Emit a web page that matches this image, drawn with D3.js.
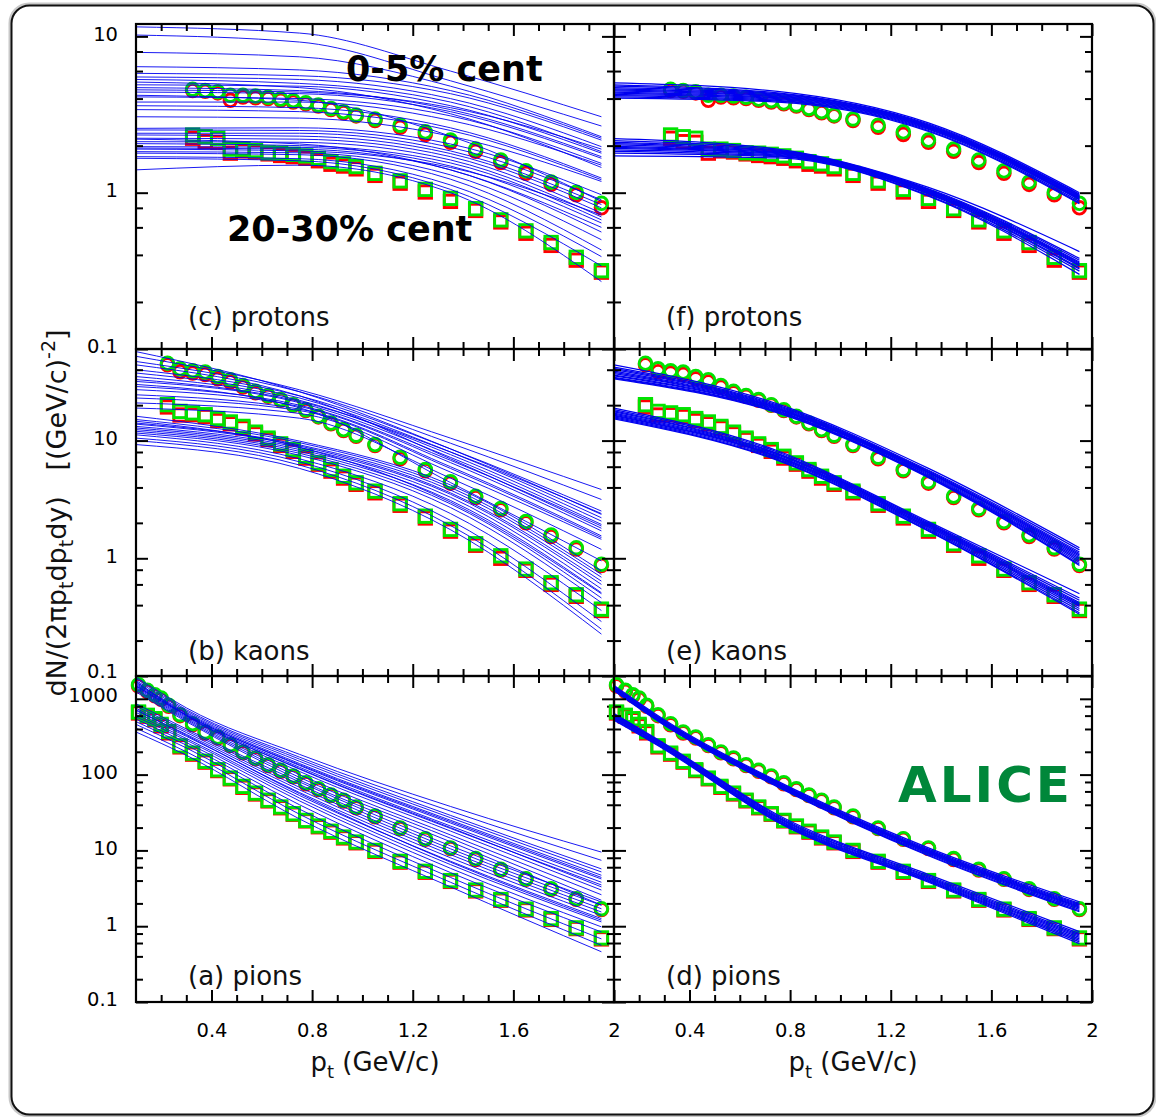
<!DOCTYPE html>
<html>
<head>
<meta charset="utf-8">
<script src="https://cdn.jsdelivr.net/npm/d3@7"></script>
<style>
  body { margin: 0; background: #fff; }
  svg text { font-family: "DejaVu Sans", "Liberation Sans", Arial, sans-serif; }
</style>
</head>
<body>
<svg id="chart" width="1156" height="1117"></svg>
<script>
/************************* Data *********************/
// pt nodes where each model curve was read off the picture
const ptNodes = [0.1, 0.75, 1.35, 1.95];
const pionNodes = [0.1, 0.3, 0.75, 1.35, 1.95];

// measured spectra (red drawn first, green on top)
const protonPt = [0.325, 0.375, 0.425, 0.475, 0.525, 0.575, 0.625, 0.675, 0.725, 0.775, 0.825, 0.875, 0.925, 0.975,
  1.05, 1.15, 1.25, 1.35, 1.45, 1.55, 1.65, 1.75, 1.85, 1.95];
const protonCentralGreen = [4.59, 4.5, 4.43, 4.2, 4.2, 4.15, 4.08, 3.97, 3.88, 3.76, 3.64, 3.46, 3.3, 3.14,
  2.96, 2.7, 2.45, 2.17, 1.9, 1.62, 1.38, 1.17, 1.006, 0.855];
const protonCentralRed = [4.5, 4.45, 4.35, 3.9, 4.1, 4.05, 4.0, 3.9, 3.8, 3.7, 3.58, 3.4, 3.25, 3.1,
  2.9, 2.62, 2.36, 2.1, 1.84, 1.56, 1.33, 1.13, 0.97, 0.8];
const protonPeriphGreen = [2.34, 2.28, 2.23, 1.9, 1.9, 1.86, 1.8, 1.79, 1.76, 1.72, 1.66, 1.58, 1.53, 1.47,
  1.33, 1.19, 1.05, 0.92, 0.79, 0.67, 0.57, 0.48, 0.386, 0.317];
const protonPeriphRed = [2.23, 2.12, 2.1, 1.79, 1.85, 1.82, 1.77, 1.73, 1.7, 1.66, 1.6, 1.52, 1.48, 1.42,
  1.29, 1.15, 1.01, 0.88, 0.77, 0.65, 0.55, 0.46, 0.37, 0.31];

const kaonPt = [0.225, 0.275, 0.325, 0.375, 0.425, 0.475, 0.525, 0.575, 0.625, 0.675, 0.725, 0.775, 0.825, 0.875, 0.925, 0.975,
  1.05, 1.15, 1.25, 1.35, 1.45, 1.55, 1.65, 1.75, 1.85, 1.95];
const kaonCentralGreen = [45.5, 40.7, 39.2, 38.2, 35.1, 32.9, 29.4, 26.2, 24.2, 22.3, 20.2, 18.3, 16.1, 14.1, 12.4, 11.1,
  9.25, 7.22, 5.68, 4.47, 3.37, 2.65, 2.05, 1.58, 1.23, 0.89];
const kaonCentralRed = [44, 38.5, 37.5, 36.5, 33.5, 31.5, 28.5, 25.5, 23.8, 22.0, 20.0, 18.0, 15.9, 13.9, 12.2, 10.9,
  9.1, 7.0, 5.55, 4.35, 3.28, 2.58, 2.0, 1.53, 1.2, 0.87];
const kaonPeriphGreen = [20.2, 17.7, 17.2, 16.6, 15.4, 14.4, 13.2, 11.8, 10.5, 9.38, 8.39, 7.36, 6.47, 5.68, 4.98, 4.38,
  3.72, 2.91, 2.28, 1.76, 1.33, 1.05, 0.81, 0.62, 0.49, 0.37];
const kaonPeriphRed = [19.3, 16.5, 16.6, 16.0, 14.8, 13.9, 12.8, 11.4, 10.2, 9.1, 8.1, 7.1, 6.3, 5.5, 4.8, 4.25,
  3.6, 2.82, 2.2, 1.7, 1.29, 1.0, 0.79, 0.6, 0.475, 0.36];

const pionPt = [0.11, 0.145, 0.175, 0.2, 0.23, 0.275, 0.325, 0.375, 0.425, 0.475, 0.525, 0.575, 0.625, 0.675, 0.725,
  0.775, 0.825, 0.875, 0.925, 0.975, 1.05, 1.15, 1.25, 1.35, 1.45, 1.55, 1.65, 1.75, 1.85, 1.95];
const pionCentralGreen = [1535, 1294, 1132, 1025, 820, 617, 470, 365, 313, 248, 199, 166, 135, 114, 96,
  78, 65, 54, 46, 37.4, 28.5, 19.8, 14.3, 10.8, 7.8, 5.63, 4.24, 3.13, 2.31, 1.7];
const pionCentralRed = [1480, 1250, 1100, 990, 800, 600, 455, 355, 305, 242, 194, 162, 132, 111, 94,
  76, 63.5, 53, 45, 36.5, 27.8, 19.4, 14.0, 10.6, 7.6, 5.5, 4.15, 3.06, 2.26, 1.66];
const pionPeriphGreen = [670, 606, 547, 460, 370, 240, 192, 150, 116, 90, 70, 57, 46, 37.4, 30.5,
  24.9, 21, 17.9, 15.0, 12.9, 10.0, 7.18, 5.3, 4.0, 3.0, 2.25, 1.68, 1.26, 0.95, 0.7];
const pionPeriphRed = [650, 590, 530, 440, 355, 232, 186, 146, 113, 88, 68, 55.5, 45, 36.5, 30,
  24.5, 20.5, 17.4, 14.6, 12.6, 9.7, 7.0, 5.15, 3.9, 2.92, 2.2, 1.64, 1.23, 0.93, 0.68];

// model curves, left column (broad parameter scan), values at ptNodes / pionNodes
const protonCentralScan = [
  [11.5, 10.5, 6.0, 3.06], [10.2, 9.2, 5.2, 2.67], [7.9, 7.4, 4.8, 2.28], [6.4, 6.1, 4.5, 2.23],
  [5.8, 5.6, 4.3, 2.17], [5.5, 5.3, 4.0, 1.97], [5.3, 5.0, 3.8, 1.83], [4.9, 4.8, 3.6, 1.79],
  [4.7, 4.5, 3.4, 1.7], [4.4, 4.3, 3.3, 1.66], [4.1, 4.0, 3.1, 1.54], [3.8, 3.8, 2.9, 1.5],
  [3.6, 3.5, 2.6, 1.24], [3.4, 3.3, 2.5, 1.21], [3.06, 3.0, 2.3, 1.18], [4.2, 3.9, 2.3, 0.88],
  [5.1, 4.7, 3.2, 1.45], [4.55, 4.4, 3.5, 1.9]];
const protonPeriphScan = [
  [2.58, 2.6, 2.05, 0.97], [2.52, 2.5, 1.95, 0.9], [2.4, 2.4, 1.85, 0.84], [2.34, 2.3, 1.78, 0.8],
  [2.23, 2.2, 1.7, 0.74], [2.12, 2.1, 1.62, 0.7], [2.06, 2.0, 1.55, 0.67], [1.97, 1.95, 1.48, 0.64],
  [1.93, 1.9, 1.4, 0.56], [1.83, 1.8, 1.3, 0.5], [1.79, 1.75, 1.22, 0.43], [1.7, 1.65, 1.12, 0.39],
  [1.66, 1.6, 1.05, 0.34], [1.4, 1.5, 1.0, 0.27], [2.2, 2.05, 1.4, 0.6], [1.9, 1.85, 1.45, 0.72]];
const kaonCentralScan = [
  [57, 26, 8.5, 2.36], [52, 27, 10.5, 3.84], [47, 26, 9.5, 3.16], [40, 24, 8.5, 2.52],
  [37.5, 23, 8.0, 2.21], [35, 22, 7.6, 2.07], [31.8, 21, 7.2, 1.94], [28.8, 20, 6.8, 1.88],
  [27.1, 19.5, 6.5, 1.71], [24.5, 18.5, 6.0, 1.55], [23, 18, 5.8, 1.5], [20.9, 17, 5.4, 1.45],
  [18.9, 15.5, 4.8, 1.19], [30, 19, 4.4, 0.95], [44, 24, 7.0, 1.8], [33, 21.5, 8.0, 2.4]];
const kaonPeriphScan = [
  [16.1, 9.9, 4.2, 0.78], [15.1, 9.6, 4.0, 0.73], [14.1, 9.2, 3.8, 0.69], [13.8, 9.0, 3.6, 0.64],
  [13.2, 8.7, 3.5, 0.6], [12.8, 8.4, 3.3, 0.55], [12.4, 8.1, 3.1, 0.51], [12.0, 7.8, 2.9, 0.46],
  [11.6, 7.5, 2.7, 0.42], [11.2, 7.0, 2.4, 0.36], [10.5, 6.6, 2.1, 0.29], [10.0, 6.2, 1.9, 0.25],
  [9.25, 5.8, 1.75, 0.227], [14.6, 8.8, 3.0, 0.5]];
const pionCentralScan = [
  [1940, 760, 185, 38, 9.5], [1850, 720, 170, 33, 7.4], [1750, 690, 160, 29, 5.7], [1650, 660, 150, 27, 5.2],
  [1600, 640, 140, 25, 4.7], [1550, 620, 132, 23, 4.2], [1500, 600, 125, 21, 3.8], [1450, 580, 118, 19.5, 3.5],
  [1400, 560, 110, 18, 3.0], [1350, 540, 100, 16, 2.6], [1290, 520, 92, 14.5, 2.2], [1230, 500, 85, 13, 1.9],
  [1700, 600, 120, 20, 3.3], [1480, 610, 135, 24, 4.4]];
const pionPeriphScan = [
  [860, 400, 80, 11.5, 2.09], [800, 380, 74, 10.5, 1.89], [750, 360, 68, 9.6, 1.7], [700, 340, 63, 8.8, 1.54],
  [660, 320, 58, 8.0, 1.39], [620, 300, 53, 7.2, 1.26], [580, 285, 49, 6.5, 1.14], [540, 265, 45, 5.8, 0.98],
  [500, 245, 40, 5.1, 0.84], [460, 225, 35, 4.4, 0.68], [410, 200, 30, 3.8, 0.56], [365, 180, 26, 3.3, 0.46],
  [720, 330, 56, 7.0, 1.2]];

// model curves, right column (tuned parameter sets)
const protonCentralTuned = [
  [5.05, 4.45, 2.8, 1.0], [4.9, 4.35, 2.75, 0.98], [4.8, 4.3, 2.72, 0.97], [4.7, 4.25, 2.7, 0.96],
  [4.62, 4.2, 2.68, 0.95], [4.55, 4.15, 2.66, 0.94], [4.48, 4.1, 2.64, 0.93], [4.4, 4.05, 2.62, 0.92],
  [4.33, 4.0, 2.6, 0.91], [4.25, 3.95, 2.57, 0.9], [4.18, 3.9, 2.54, 0.88], [4.1, 3.85, 2.5, 0.86],
  [4.02, 3.8, 2.47, 0.85]];
const protonPeriphTuned = [
  [2.22, 1.9, 1.08, 0.42], [2.15, 1.87, 1.06, 0.38], [2.1, 1.85, 1.05, 0.37], [2.06, 1.83, 1.04, 0.36],
  [2.02, 1.81, 1.03, 0.355], [1.98, 1.8, 1.02, 0.35], [1.95, 1.78, 1.01, 0.345], [1.92, 1.76, 1.0, 0.34],
  [1.88, 1.74, 0.99, 0.33], [1.84, 1.72, 0.98, 0.325], [1.79, 1.7, 0.96, 0.315], [1.72, 1.67, 0.95, 0.3]];
const kaonCentralTuned = [
  [44, 20.5, 5.8, 1.23], [42, 20.0, 5.6, 1.18], [41, 19.6, 5.5, 1.13], [40, 19.3, 5.4, 1.1],
  [39, 19.0, 5.35, 1.07], [38, 18.8, 5.3, 1.04], [37, 18.6, 5.2, 1.01], [36, 18.3, 5.1, 0.98],
  [35.5, 18.0, 5.0, 0.95], [34.5, 17.7, 4.95, 0.92], [34, 17.4, 4.9, 0.89], [33.5, 17.2, 4.85, 0.87]];
const kaonPeriphTuned = [
  [18.9, 8.2, 2.05, 0.5], [18.3, 8.0, 2.0, 0.46], [17.9, 7.8, 1.96, 0.44], [17.5, 7.7, 1.93, 0.42],
  [17.1, 7.55, 1.9, 0.41], [16.8, 7.4, 1.87, 0.4], [16.5, 7.3, 1.84, 0.39], [16.2, 7.2, 1.8, 0.375],
  [15.9, 7.05, 1.76, 0.36], [15.6, 6.9, 1.72, 0.345], [15.3, 6.8, 1.7, 0.335]];
const pionCentralTuned = [
  [1500, 530, 82, 10.8, 2.1], [1460, 515, 80, 10.4, 2.0], [1430, 505, 78, 10.1, 1.94], [1400, 495, 77, 9.9, 1.88],
  [1380, 488, 76, 9.7, 1.83], [1360, 480, 75, 9.5, 1.78], [1340, 472, 74, 9.3, 1.73], [1320, 465, 72, 9.0, 1.67],
  [1300, 455, 70, 8.7, 1.6], [1280, 448, 69, 8.5, 1.55]];
const pionPeriphTuned = [
  [640, 258, 29.5, 4.8, 0.85], [625, 252, 28.5, 4.6, 0.8], [610, 246, 27.5, 4.45, 0.77], [595, 240, 26.8, 4.3, 0.74],
  [580, 235, 26.0, 4.2, 0.71], [565, 230, 25.3, 4.1, 0.68], [550, 225, 24.6, 4.0, 0.65], [535, 220, 24.0, 3.9, 0.62],
  [520, 215, 23.5, 3.8, 0.59]];

const xMajor = [0.4, 0.8, 1.2, 1.6, 2.0];
const xMinor = [0.2, 0.3, 0.5, 0.6, 0.7, 0.9, 1.0, 1.1, 1.3, 1.4, 1.5, 1.7, 1.8, 1.9];

/************************* Layout *********************/
const svg = d3.select("svg#chart");
const colLeft = [136, 614];
const panelW = 478;
const green = "#00e400";
const red = "#ff0000";
const blue = "#0000f0";

const rows = [
  { top: 24, bottom: 349, domain: [0.1, 12], labelY: 326, names: ["(c) protons", "(f) protons"], nodes: ptNodes,
    pt: protonPt, circ: [protonCentralRed, protonCentralGreen], sq: [protonPeriphRed, protonPeriphGreen],
    curves: [[protonCentralScan, protonPeriphScan], [protonCentralTuned, protonPeriphTuned]] },
  { top: 349, bottom: 676, domain: [0.1, 60], labelY: 660, names: ["(b) kaons", "(e) kaons"], nodes: ptNodes,
    pt: kaonPt, circ: [kaonCentralRed, kaonCentralGreen], sq: [kaonPeriphRed, kaonPeriphGreen],
    curves: [[kaonCentralScan, kaonPeriphScan], [kaonCentralTuned, kaonPeriphTuned]] },
  { top: 676, bottom: 1002, domain: [0.1, 2000], labelY: 985, names: ["(a) pions", "(d) pions"], nodes: pionNodes,
    pt: pionPt, circ: [pionCentralRed, pionCentralGreen], sq: [pionPeriphRed, pionPeriphGreen],
    curves: [[pionCentralScan, pionPeriphScan], [pionCentralTuned, pionPeriphTuned]] },
];

/************************* Outer frame *********************/
svg.append("rect").attr("x", 11).attr("y", 5).attr("width", 1143).attr("height", 1110).attr("rx", 18)
  .attr("fill", "none").attr("stroke", "#c8c8c8").attr("stroke-width", 5);
svg.append("rect").attr("x", 11.5).attr("y", 5.5).attr("width", 1142).attr("height", 1109).attr("rx", 18)
  .attr("fill", "#fff").attr("stroke", "#111").attr("stroke-width", 2);

const defs = svg.append("defs");
const labelFmt = d3.format("~g");

/************************* Panels *********************/
rows.forEach((row, ri) => {
  colLeft.forEach((left, ci) => {
    const x = d3.scaleLinear().domain([0.1, 2.0]).range([left, left + panelW]);
    const y = d3.scaleLog().domain(row.domain).range([row.bottom, row.top]);
    const g = svg.append("g").attr("class", `panel r${ri} c${ci}`);
    const clipId = `clip-${ri}-${ci}`;
    defs.append("clipPath").attr("id", clipId).append("rect")
      .attr("x", left).attr("y", row.top).attr("width", panelW).attr("height", row.bottom - row.top);

    // markers: red first, green on top
    [0, 1].forEach((k) => {
      const color = k === 0 ? red : green;
      g.append("g").selectAll("rect")
        .data(row.sq[k].map((v, i) => [row.pt[i], v]))
        .join("rect")
        .attr("x", (d) => x(d[0]) - 6.2).attr("y", (d) => y(d[1]) - 6.2)
        .attr("width", 12.4).attr("height", 12.4)
        .attr("fill", "none").attr("stroke", color).attr("stroke-width", 2.9);
      g.append("g").selectAll("circle")
        .data(row.circ[k].map((v, i) => [row.pt[i], v]))
        .join("circle")
        .attr("cx", (d) => x(d[0])).attr("cy", (d) => y(d[1])).attr("r", 6.3)
        .attr("fill", "none").attr("stroke", color).attr("stroke-width", 2.9);
    });

    // model curves
    const line = d3.line().x((d) => x(d[0])).y((d) => y(d[1])).curve(d3.curveMonotoneX);
    const curveSets = row.curves[ci];
    g.append("g").attr("clip-path", `url(#${clipId})`)
      .selectAll("path")
      .data(curveSets[0].concat(curveSets[1]))
      .join("path")
      .attr("d", (vals) => line(vals.map((v, i) => [row.nodes[i], v])))
      .attr("fill", "none").attr("stroke", blue).attr("stroke-width", ci === 0 ? 0.9 : 1.25);

    // ticks
    const decades = [];
    const minors = [];
    for (let e = -1; e <= 3; e++) {
      const d = Math.pow(10, e);
      if (d >= row.domain[0] && d <= row.domain[1]) decades.push(d);
      [2, 4, 6, 8].forEach((m) => { if (m * d < row.domain[1]) minors.push(m * d); });
    }
    const styleAxis = (sel) => {
      sel.select(".domain").remove();
      sel.selectAll(".tick line").attr("stroke", "#000").attr("stroke-width", 2);
      sel.selectAll(".tick text").attr("fill", "#000").style("font-size", "19.5px")
        .style("font-family", '"DejaVu Sans", sans-serif');
    };
    const isBottom = ri === rows.length - 1;
    g.append("g").attr("transform", `translate(0,${row.bottom})`)
      .call(d3.axisBottom(x).tickValues(xMajor).tickSize(-12).tickPadding(21)
        .tickFormat(isBottom ? (d) => labelFmt(+d.toFixed(1)) : ""))
      .call(styleAxis);
    g.append("g").attr("transform", `translate(0,${row.bottom})`)
      .call(d3.axisBottom(x).tickValues(xMinor).tickSize(-7).tickFormat("")).call(styleAxis);
    g.append("g").attr("transform", `translate(0,${row.top})`)
      .call(d3.axisTop(x).tickValues(xMajor).tickSize(-12).tickFormat("")).call(styleAxis);
    g.append("g").attr("transform", `translate(0,${row.top})`)
      .call(d3.axisTop(x).tickValues(xMinor).tickSize(-7).tickFormat("")).call(styleAxis);
    const leftAxis = g.append("g").attr("transform", `translate(${left},0)`)
      .call(d3.axisLeft(y).tickValues(decades).tickSize(-12).tickPadding(18)
        .tickFormat(ci === 0 ? labelFmt : ""))
      .call(styleAxis);
    // keep neighbouring labels at the row joins apart
    leftAxis.selectAll(".tick text").attr("dy", (d) => {
      if (d === 1000) return "0.12em";
      if (d === 0.1 && ri === 1) return "0.08em";
      return "0.2em";
    });
    g.append("g").attr("transform", `translate(${left},0)`)
      .call(d3.axisLeft(y).tickValues(minors).tickSize(-7).tickFormat("")).call(styleAxis);
    g.append("g").attr("transform", `translate(${left + panelW},0)`)
      .call(d3.axisRight(y).tickValues(decades).tickSize(-12).tickFormat("")).call(styleAxis);
    g.append("g").attr("transform", `translate(${left + panelW},0)`)
      .call(d3.axisRight(y).tickValues(minors).tickSize(-7).tickFormat("")).call(styleAxis);

    // frame
    g.append("rect").attr("x", left).attr("y", row.top).attr("width", panelW).attr("height", row.bottom - row.top)
      .attr("fill", "none").attr("stroke", "#000").attr("stroke-width", 2.2);

    g.append("text").text(row.names[ci]).attr("x", left + 52).attr("y", row.labelY)
      .style("font-size", "26px").attr("fill", "#111");
  });
});

/************************* Titles & annotations *********************/
const annot = svg.append("g").attr("class", "annot");
annot.append("text").text("0-5% cent").attr("x", 346).attr("y", 81)
  .style("font-size", "35px").style("font-weight", "bold").attr("fill", "#000");
annot.append("text").text("20-30% cent").attr("x", 227).attr("y", 241)
  .style("font-size", "35px").style("font-weight", "bold").attr("fill", "#000");
annot.append("text").text("ALICE").attr("x", 898).attr("y", 802)
  .style("font-size", "50px").style("font-weight", "bold").style("letter-spacing", "3px").attr("fill", "#00873a");

[375, 853].forEach((cx) => {
  const t = annot.append("text").attr("x", cx).attr("y", 1071).attr("text-anchor", "middle")
    .style("font-size", "26px").attr("fill", "#111");
  t.append("tspan").text("p");
  t.append("tspan").text("t").attr("dy", 7).style("font-size", "18px");
  t.append("tspan").text(" (GeV/c)").attr("dy", -7);
});

const yt = annot.append("text").attr("transform", "translate(66,513) rotate(-90)").attr("text-anchor", "middle")
  .style("font-size", "27px").attr("fill", "#111");
yt.append("tspan").text("dN/(2πp");
yt.append("tspan").text("t").attr("dy", 7).style("font-size", "19px");
yt.append("tspan").text("dp").attr("dy", -7);
yt.append("tspan").text("t").attr("dy", 7).style("font-size", "19px");
yt.append("tspan").text("dy)\u00a0\u00a0\u00a0[(GeV/c)").attr("dy", -7);
yt.append("tspan").text("-2").attr("dy", -11).style("font-size", "19px");
yt.append("tspan").text("]").attr("dy", 11);
</script>
</body>
</html>
